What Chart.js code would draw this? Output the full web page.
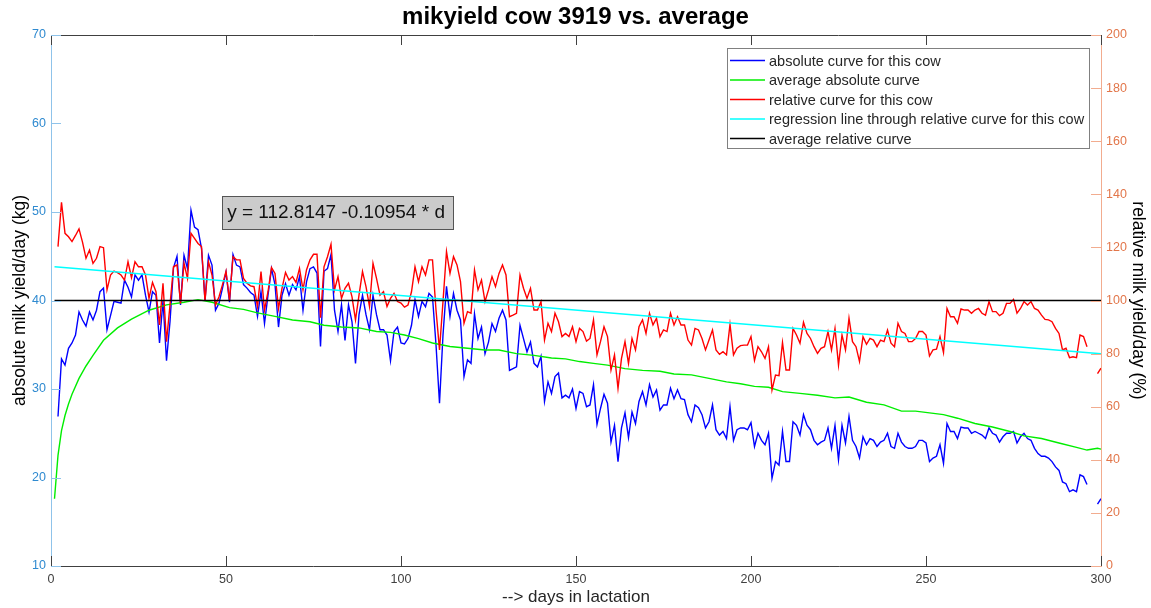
<!DOCTYPE html>
<html>
<head>
<meta charset="utf-8">
<title>mikyield cow 3919 vs. average</title>
<script src="https://cdn.jsdelivr.net/npm/chart.js@4.4.1/dist/chart.umd.min.js"></script>
<style>
    html, body { margin: 0; padding: 0; background: #ffffff; }
    #wrap { position: relative; width: 1151px; height: 608px; }
</style>
</head>
<body>
<div id="wrap"><canvas id="milkChart" width="1151" height="608"></canvas></div>
<script>
// daily values for this cow, starting at day 2 (null = no measurement)
var firstDay = 2;
var cowAbsolute = [
    26.9, 33.4, 32.7, 34.6, 35.2, 36.1, 38.7, 37.8, 37.1, 38.7,
    37.8, 38.9, 41.0, 41.4, 36.7, 38.3, 39.9, 39.8, 39.7, 42.3,
    41.5, 40.4, 42.9, 42.3, 42.9, 40.6, 38.7, 41.0, 40.6, 35.2,
    40.0, 33.2, 37.6, 43.7, 45.0, 39.5, 45.1, 43.6, 50.2, 48.3,
    48.0, 45.9, 40.0, 45.1, 44.0, 38.9, 39.7, 41.4, 43.2, 39.8,
    45.2, 44.0, 43.8, 41.8, 41.4, 40.9, 40.6, 38.2, 41.0, 37.4,
    40.6, 43.6, 41.8, 37.0, 40.6, 41.9, 40.6, 41.8, 41.2, 42.7,
    38.9, 42.1, 43.6, 43.8, 43.1, 34.8, 43.3, 43.6, 45.2, 38.9,
    36.5, 39.5, 35.5, 39.5, 37.6, 32.9, 38.4, 40.6, 38.4, 36.7,
    40.6, 38.4, 36.7, 36.7, 36.1, 33.2, 36.5, 37.0, 35.2, 35.1,
    35.7, 37.2, 40.1, 38.2, 39.9, 39.3, 40.8, 40.4, 35.0, 28.4,
    36.1, 41.6, 38.2, 40.8, 38.9, 37.8, 31.4, 33.3, 32.9, 38.5,
    35.7, 37.0, 34.0, 35.3, 37.4, 36.5, 38.0, 38.9, 37.8, 32.1,
    32.3, 32.5, 37.2, 35.7, 34.2, 35.3, 32.9, 32.5, 33.7, 28.6,
    30.8, 29.5, 31.4, 31.8, 29.0, 29.3, 29.0, 30.0, 27.8, 29.7,
    29.5, 28.0, 28.2, 30.5, 26.0, 27.8, 29.4, 28.4, 24.0, 25.9,
    21.8, 25.6, 27.3, 24.5, 27.4, 26.1, 28.6, 29.7, 28.2, 30.5,
    29.1, 29.9, 27.6, 28.2, 28.2, 30.1, 28.9, 29.9, 28.9, 28.8,
    27.1, 26.3, 28.2, 27.9, 27.1, 25.6, 26.3, 28.2, 25.4, 24.8,
    25.2, 24.4, 28.0, 24.2, 25.4, 25.6, 25.6, 25.4, 26.2, 23.5,
    25.0, 24.2, 23.7, 25.0, 19.9, 21.8, 21.4, 25.2, 21.8, 21.8,
    26.3, 25.9, 24.8, 27.1, 25.9, 25.4, 24.2, 23.7, 24.0, 24.2,
    25.6, 23.3, 25.9, 22.0, 25.9, 23.9, 26.9, 24.2, 23.5, 22.2,
    24.6, 23.7, 24.4, 24.2, 23.5, 24.0, 24.2, 25.0, 23.5, 23.3,
    25.0, 24.0, 23.5, 23.3, 23.3, 23.5, 24.2, 24.2, 23.9, 21.8,
    22.2, 22.4, 23.7, 21.6, 26.1, 25.2, 25.2, 24.4, 25.7, 25.6,
    25.6, 25.0, 25.2, 25.0, 24.8, 24.4, 25.6, 25.0, 24.8, 24.0,
    24.6, 25.0, 25.0, 25.2, 23.9, 24.6, 25.0, 24.4, 24.2, 23.3,
    22.7, 22.4, 22.4, 22.2, 21.8, 21.2, 20.8, 19.5, 19.3, 18.4,
    18.6, 18.4, 20.3, 20.1, 19.2, null, null, 17.0, 17.6
];
var cowRelative = [
    120.3, 137.0, 125.3, 124.0, 122.2, 124.5, 127.0, 122.0, 115.9, 119.0,
    114.0, 115.9, 120.3, 119.9, 104.0, 109.6, 111.1, 110.5, 109.6, 107.7,
    114.6, 108.6, 114.6, 112.7, 112.7, 109.6, 100.8, 106.8, 103.3, 90.8,
    106.5, 84.5, 98.3, 112.7, 113.4, 98.9, 114.0, 108.3, 125.3, 123.4,
    121.5, 120.3, 99.8, 114.6, 109.6, 98.3, 101.4, 106.0, 111.0, 100.0,
    116.5, 115.3, 115.3, 108.3, 106.5, 105.5, 105.2, 97.7, 110.9, 96.4,
    103.3, 112.4, 110.2, 97.0, 104.6, 110.6, 107.7, 109.0, 106.8, 112.1,
    104.0, 111.5, 115.3, 117.4, 117.4, 93.5, 112.7, 116.5, 121.2, 104.0,
    109.0, 100.8, 104.6, 106.5, 101.4, 92.7, 102.0, 110.9, 105.2, 97.7,
    114.0, 108.3, 102.0, 103.3, 97.7, 100.8, 102.7, 99.6, 99.0, 97.5,
    98.3, 103.3, 112.7, 107.1, 112.7, 109.6, 115.3, 115.3, 96.4, 81.4,
    99.6, 118.4, 110.2, 116.5, 113.4, 107.1, 91.4, 95.8, 95.2, 111.5,
    104.0, 107.7, 99.6, 104.0, 109.0, 105.2, 110.2, 113.4, 109.6, 93.9,
    94.5, 95.2, 109.6, 104.6, 100.8, 104.6, 96.4, 96.4, 99.6, 85.1,
    91.4, 88.3, 95.2, 92.0, 86.4, 87.6, 86.4, 90.1, 84.5, 89.5,
    88.3, 84.7, 85.7, 92.7, 79.5, 84.5, 90.1, 86.4, 73.8, 79.5,
    66.9, 78.2, 84.5, 76.3, 85.7, 81.4, 90.1, 92.7, 87.6, 95.2,
    90.8, 93.3, 86.4, 88.9, 88.3, 95.2, 90.8, 93.9, 90.8, 90.8,
    85.1, 83.2, 89.5, 88.9, 85.7, 81.4, 85.1, 88.9, 81.4, 79.7,
    80.7, 79.5, 91.0, 79.5, 82.0, 83.0, 83.2, 83.2, 86.4, 77.4,
    82.6, 80.7, 78.2, 82.6, 66.3, 71.9, 71.7, 84.2, 73.8, 73.8,
    89.5, 87.0, 83.9, 91.8, 87.6, 85.7, 82.6, 80.1, 82.0, 82.6,
    88.3, 81.4, 89.5, 75.7, 87.0, 81.4, 93.3, 84.5, 82.6, 77.0,
    86.4, 83.5, 85.7, 85.1, 82.6, 85.1, 84.5, 88.9, 83.9, 82.6,
    91.4, 88.3, 87.6, 84.5, 84.5, 85.7, 88.3, 88.3, 87.0, 79.1,
    81.4, 81.7, 86.4, 80.4, 97.0, 93.9, 93.9, 91.4, 96.8, 96.4,
    96.4, 95.2, 96.4, 97.0, 95.2, 94.5, 99.6, 95.8, 95.8, 94.3,
    95.2, 98.9, 98.9, 100.4, 95.2, 97.0, 99.6, 98.3, 99.6, 97.0,
    96.4, 94.5, 92.9, 92.7, 92.0, 89.5, 87.6, 81.4, 82.0, 78.5,
    78.8, 78.5, 87.0, 86.4, 82.6, null, null, 72.5, 74.5
];

// average absolute curve (sampled days)
var avgDays = [1, 2, 3, 4, 5, 6, 8, 10, 12, 15, 19, 23, 28, 33, 38, 42, 46, 51, 55, 59,
    64, 69, 74, 78, 83, 88, 93, 97, 101, 105, 109, 114, 119, 124, 128, 133, 138, 143, 147, 151,
    155, 159, 164, 169, 174, 178, 183, 188, 193, 197, 201, 205, 209, 214, 219, 224, 228, 233, 238, 243,
    247, 251, 255, 259, 264, 269, 274, 278, 283, 288, 293, 296, 299, 300];
var avgAbsolute = [17.6, 22.5, 25.3, 27.0, 28.3, 29.4, 31.2, 32.6, 33.8, 35.5, 36.9, 37.9, 38.9, 39.5, 39.8, 40.1, 39.8, 39.2, 39.0, 38.6,
    38.2, 37.8, 37.6, 37.2, 37.0, 36.9, 36.5, 36.4, 36.1, 35.7, 35.2, 34.8, 34.6, 34.4, 34.4, 34.0, 33.8, 33.5, 33.4, 33.1,
    32.9, 32.7, 32.3, 32.1, 32.0, 31.7, 31.6, 31.2, 30.8, 30.6, 30.3, 30.2, 29.7, 29.5, 29.3, 29.0, 29.1, 28.5, 28.2, 27.5,
    27.5, 27.3, 27.1, 26.7, 26.1, 25.7, 25.2, 24.7, 24.4, 23.9, 23.4, 23.1, 23.3, 23.2];

// regression line and average relative curve (end points)
var regDays = [1, 300];
var regRelative = [112.7, 79.95];
var avgRelDays = [1, 300];
var avgRelative = [100, 100];

var xTicks = [0, 50, 100, 150, 200, 250, 300];
var legendLabels = [
    'absolute curve for this cow',
    'average absolute curve',
    'relative curve for this cow',
    'regression line through relative curve for this cow',
    'average relative curve'
];
var legendColors = ['#0000ff', '#00ee00', '#ff0000', '#00ffff', '#000000'];
var equationText = 'y = 112.8147 -0.10954 * d';

var FONT = "'Liberation Sans', Arial, Helvetica, sans-serif";

function toPoints(xs, ys) {
    return ys.map(function(v, i) { return { x: xs[i], y: v }; });
}
function dailyPoints(start, ys) {
    return ys.map(function(v, i) { return { x: start + i, y: v }; });
}

// inward tick marks, top frame, legend box and the equation label
var matlabDecor = {
    id: 'matlabDecor',
    afterDatasetsDraw: function(chart) {
        var ctx = chart.ctx;
        var area = chart.chartArea;
        var xs = chart.scales.x, yl = chart.scales.y, yr = chart.scales.y1;
        ctx.save();
        ctx.lineWidth = 1;

        // top frame line
        ctx.strokeStyle = '#404040';
        ctx.beginPath();
        ctx.moveTo(area.left, area.top + 0.5);
        ctx.lineTo(area.right, area.top + 0.5);
        ctx.stroke();

        // x ticks bottom and top
        xTicks.forEach(function(t) {
            var px = Math.round(xs.getPixelForValue(t)) + 0.5;
            ctx.beginPath();
            ctx.moveTo(px, area.bottom);
            ctx.lineTo(px, area.bottom - 10);
            ctx.moveTo(px, area.top);
            ctx.lineTo(px, area.top + 10);
            ctx.stroke();
        });

        // left ticks
        ctx.strokeStyle = '#8fc3ea';
        yl.ticks.forEach(function(t) {
            var py = Math.round(yl.getPixelForValue(t.value)) + 0.5;
            ctx.beginPath();
            ctx.moveTo(area.left, py);
            ctx.lineTo(area.left + 10, py);
            ctx.stroke();
        });

        // right ticks
        ctx.strokeStyle = '#f2ac8f';
        yr.ticks.forEach(function(t) {
            var py = Math.round(yr.getPixelForValue(t.value)) + 0.5;
            ctx.beginPath();
            ctx.moveTo(area.right, py);
            ctx.lineTo(area.right - 10, py);
            ctx.stroke();
        });

        // equation box
        var bx = xs.getPixelForValue(48.9), by = yl.getPixelForValue(51.8);
        ctx.fillStyle = '#cbcbcb';
        ctx.fillRect(bx, by, 231, 33);
        ctx.strokeStyle = '#555555';
        ctx.strokeRect(Math.round(bx) + 0.5, Math.round(by) + 0.5, 231, 33);
        ctx.fillStyle = '#111111';
        ctx.font = '19px ' + FONT;
        ctx.textBaseline = 'middle';
        ctx.textAlign = 'left';
        ctx.fillText(equationText, bx + 5, by + 17);

        // legend
        var lx = area.right - 374, ly = area.top + 13;
        ctx.fillStyle = '#ffffff';
        ctx.fillRect(lx, ly, 362, 100);
        ctx.strokeStyle = '#808080';
        ctx.strokeRect(lx + 0.5, ly + 0.5, 362, 100);
        ctx.font = '14.5px ' + FONT;
        legendLabels.forEach(function(label, i) {
            var ry = ly + 12.5 + i * 19.5;
            ctx.strokeStyle = legendColors[i];
            ctx.lineWidth = 1.5;
            ctx.beginPath();
            ctx.moveTo(lx + 3, ry);
            ctx.lineTo(lx + 38, ry);
            ctx.stroke();
            ctx.fillStyle = '#262626';
            ctx.fillText(label, lx + 42, ry + 1);
        });
        ctx.restore();
    }
};

var ctx = document.getElementById('milkChart').getContext('2d');
new Chart(ctx, {
    type: 'line',
    data: {
        datasets: [{
            label: legendLabels[0],
            data: dailyPoints(firstDay, cowAbsolute),
            borderColor: '#0000ff',
            yAxisID: 'y',
            order: 5
        }, {
            label: legendLabels[1],
            data: toPoints(avgDays, avgAbsolute),
            borderColor: '#00ee00',
            yAxisID: 'y',
            order: 4
        }, {
            label: legendLabels[2],
            data: dailyPoints(firstDay, cowRelative),
            borderColor: '#ff0000',
            yAxisID: 'y1',
            order: 3
        }, {
            label: legendLabels[3],
            data: toPoints(regDays, regRelative),
            borderColor: '#00ffff',
            yAxisID: 'y1',
            order: 2
        }, {
            label: legendLabels[4],
            data: toPoints(avgRelDays, avgRelative),
            borderColor: '#000000',
            yAxisID: 'y1',
            order: 1
        }]
    },
    options: {
        responsive: false,
        animation: false,
        events: [],
        spanGaps: false,
        elements: {
            point: { radius: 0 },
            line: { borderWidth: 1.4, tension: 0 }
        },
        layout: { padding: 0 },
        plugins: {
            legend: { display: false },
            tooltip: { enabled: false },
            title: {
                display: true,
                text: 'mikyield cow 3919 vs. average',
                color: '#000000',
                font: { family: FONT, size: 24, weight: 'bold' },
                padding: { top: 3, bottom: 3.2 }
            }
        },
        scales: {
            x: {
                type: 'linear',
                min: 0,
                max: 300,
                afterFit: function(scale) { scale.height = 42; },
                afterBuildTicks: function(scale) {
                    scale.ticks = xTicks.map(function(v) { return { value: v }; });
                },
                grid: { drawOnChartArea: false, drawTicks: false },
                border: { color: '#404040', width: 1 },
                ticks: { color: '#404040', padding: 6, maxRotation: 0, font: { family: FONT, size: 12.5 } },
                title: {
                    display: true,
                    text: '--> days in lactation',
                    color: '#262626',
                    font: { family: FONT, size: 17 },
                    padding: { top: 0, bottom: 0 }
                }
            },
            y: {
                position: 'left',
                min: 10,
                max: 70,
                afterFit: function(scale) { scale.width = 51; },
                grid: { drawOnChartArea: false, drawTicks: false },
                border: { color: '#8fc3ea', width: 1 },
                ticks: { stepSize: 10, color: '#2f8ad0', padding: 5, font: { family: FONT, size: 12.5 } },
                title: {
                    display: true,
                    text: 'absolute milk yield/day (kg)',
                    color: '#000000',
                    font: { family: FONT, size: 17.5 },
                    padding: { top: 9.5, bottom: 0 }
                }
            },
            y1: {
                position: 'right',
                min: 0,
                max: 200,
                afterFit: function(scale) { scale.width = 50; },
                grid: { drawOnChartArea: false, drawTicks: false },
                border: { color: '#f2ac8f', width: 1 },
                ticks: { stepSize: 20, color: '#e2764a', padding: 5, font: { family: FONT, size: 12.5 } },
                title: {
                    display: true,
                    text: 'relative milk yield/day (%)',
                    color: '#000000',
                    font: { family: FONT, size: 17.5 },
                    padding: { top: 2.5, bottom: 0 }
                }
            }
        }
    },
    plugins: [matlabDecor]
});
</script>
</body>
</html>
